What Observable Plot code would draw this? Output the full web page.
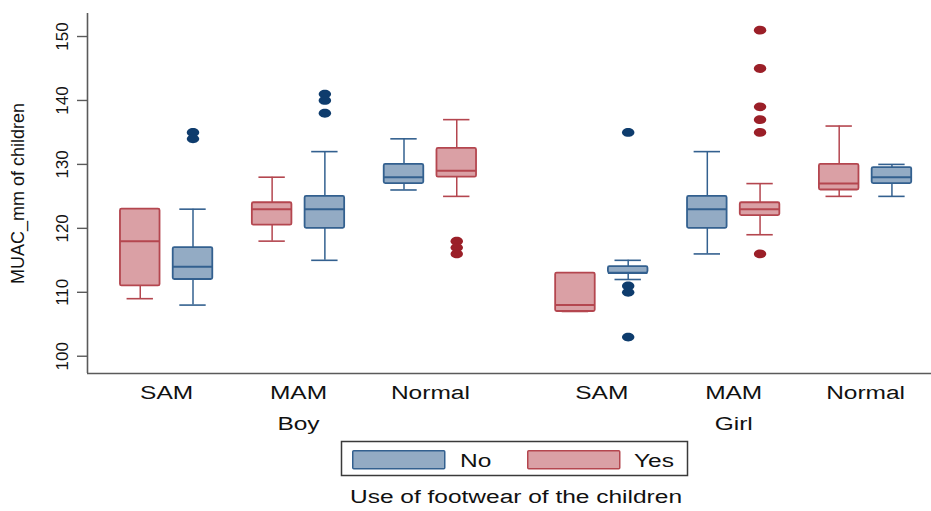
<!DOCTYPE html>
<html>
<head>
<meta charset="utf-8">
<script src="https://cdn.jsdelivr.net/npm/d3@7"></script>
<script src="https://cdn.jsdelivr.net/npm/@observablehq/plot@0.6"></script>
<style>
  html, body { margin: 0; padding: 0; background: #ffffff; }
  #chart { width: 931px; height: 511px; position: relative; overflow: hidden; }
  svg { display: block; }
</style>
</head>
<body>
<div id="chart"></div>
<script>
// ---------- data ----------
// boxes, left to right
const sex      = ["Boy","Boy","Boy","Boy","Boy","Boy","Girl","Girl","Girl","Girl","Girl","Girl"];
const status   = ["SAM","SAM","MAM","MAM","Normal","Normal","SAM","SAM","MAM","MAM","Normal","Normal"];
const footwear = ["Yes","No","Yes","No","No","Yes","Yes","No","No","Yes","Yes","No"];
const whiskerLow  = [109, 108, 118, 115, 126, 125, 107, 112, 116, 119, 125, 125];
const quartile1   = [111, 112, 120.5, 120, 127, 128, 107, 113, 120, 122, 126, 127];
const median      = [118, 114, 123, 123, 128, 129, 108, 113, 123, 123, 127, 128];
const quartile3   = [123, 117, 124, 125, 130, 132.5, 113, 114, 125, 124, 130, 129.5];
const whiskerHigh = [123, 123, 128, 132, 134, 137, 113, 115, 132, 127, 136, 130];

// outside values
const outlierSex      = ["Boy","Boy","Boy","Boy","Boy","Boy","Boy","Boy","Girl","Girl","Girl","Girl","Girl","Girl","Girl","Girl","Girl","Girl"];
const outlierStatus   = ["SAM","SAM","MAM","MAM","MAM","Normal","Normal","Normal","SAM","SAM","SAM","SAM","MAM","MAM","MAM","MAM","MAM","MAM"];
const outlierFootwear = ["No","No","No","No","No","Yes","Yes","Yes","No","No","No","No","Yes","Yes","Yes","Yes","Yes","Yes"];
const outlierValue    = [135, 134, 141, 140, 138, 118, 117, 116, 135, 111, 110, 103, 151, 145, 139, 137, 135, 116];

const groupLabels    = ["Boy", "Girl"];
const categoryLabels = ["SAM", "MAM", "Normal"];
const legendKeys     = ["No", "Yes"];
const yTicks         = [100, 110, 120, 130, 140, 150];
const yTitle = "MUAC_mm of children";
const xTitle = "Use of footwear of the children";

// ---------- styles ----------
const fillColor   = {No: "#93abc4", Yes: "#daa0a5"};
const strokeColor = {No: "#33608f", Yes: "#b4464f"};
const dotColor    = {No: "#0e3c6d", Yes: "#9b1f28"};
const FONT = "'Liberation Sans', Arial, Helvetica, sans-serif";
const STRETCH = 1.36;

// layout (in category units)
const groupGap = 0.3, boxOffset = 0.2, boxHalf = 0.15, capHalf = 0.1;
const xDomain = [-0.6, 5.8];
const yDomain = [97.3, 153.6];

const catCenter = (g, c) => g * 3 + c + g * groupGap;
const boxes = sex.map((s, i) => {
  const g = groupLabels.indexOf(s), c = categoryLabels.indexOf(status[i]);
  const first = status.indexOf(status[i], g * 6) === i;
  return {
    sex: s, status: status[i], footwear: footwear[i],
    x: catCenter(g, c) + (first ? -boxOffset : boxOffset),
    lo: whiskerLow[i], q1: quartile1[i], med: median[i], q3: quartile3[i], hi: whiskerHigh[i]
  };
});
const outliers = outlierValue.map((v, i) => {
  const b = boxes.find(b => b.sex === outlierSex[i] && b.status === outlierStatus[i] && b.footwear === outlierFootwear[i]);
  return {x: b.x, value: v, footwear: outlierFootwear[i]};
});
const catLabels = [];
groupLabels.forEach((g, gi) => categoryLabels.forEach((c, ci) => catLabels.push({x: catCenter(gi, ci), text: c})));
const grpLabels = groupLabels.map((g, gi) => ({x: catCenter(gi, 1), text: g}));

const ellipse = {
  draw(ctx) {
    const rx = 6.2, ry = 4.4, k = 0.5523;
    ctx.moveTo(rx, 0);
    ctx.bezierCurveTo(rx, ry * k, rx * k, ry, 0, ry);
    ctx.bezierCurveTo(-rx * k, ry, -rx, ry * k, -rx, 0);
    ctx.bezierCurveTo(-rx, -ry * k, -rx * k, -ry, 0, -ry);
    ctx.bezierCurveTo(rx * k, -ry, rx, -ry * k, rx, 0);
    ctx.closePath();
  }
};

const svg = Plot.plot({
  width: 931, height: 437,
  marginLeft: 87, marginRight: 0, marginTop: 13, marginBottom: 64,
  style: {fontFamily: FONT, fontSize: "18px", color: "#111", background: "#ffffff", overflow: "visible"},
  x: {type: "linear", domain: xDomain, axis: null},
  y: {domain: yDomain, axis: null},
  marks: [
    // axes lines
    Plot.ruleX([xDomain[0]], {stroke: "#5a5a5a", strokeWidth: 1.6}),
    Plot.ruleY([yDomain[0]], {stroke: "#5a5a5a", strokeWidth: 1.6}),
    Plot.ruleY(yTicks, {y: d => d, x1: xDomain[0], x2: xDomain[0], insetLeft: -10, stroke: "#5a5a5a", strokeWidth: 1.4}),
    Plot.text(yTicks, {x: xDomain[0], y: d => d, text: d => String(d), rotate: -90, dx: -25, textAnchor: "middle", lineAnchor: "middle", fontSize: 17, fill: "#111"}),
    Plot.text([yTitle], {frameAnchor: "left", text: d => d, rotate: -90, dx: -69, textAnchor: "middle", lineAnchor: "middle", fontSize: 18, fill: "#111"}),
    // whiskers
    Plot.ruleX(boxes, {x: "x", y1: "q3", y2: "hi", stroke: d => strokeColor[d.footwear], strokeWidth: 1.5}),
    Plot.ruleX(boxes, {x: "x", y1: "lo", y2: "q1", stroke: d => strokeColor[d.footwear], strokeWidth: 1.5}),
    Plot.ruleY(boxes, {y: "hi", x1: d => d.x - capHalf, x2: d => d.x + capHalf, stroke: d => strokeColor[d.footwear], strokeWidth: 1.6}),
    Plot.ruleY(boxes, {y: "lo", x1: d => d.x - capHalf, x2: d => d.x + capHalf, stroke: d => strokeColor[d.footwear], strokeWidth: 1.6}),
    // boxes
    Plot.rect(boxes, {x1: d => d.x - boxHalf, x2: d => d.x + boxHalf, y1: "q1", y2: "q3",
      fill: d => fillColor[d.footwear], stroke: d => strokeColor[d.footwear], strokeWidth: 1.8, rx: 1.5}),
    Plot.ruleY(boxes, {y: "med", x1: d => d.x - boxHalf, x2: d => d.x + boxHalf, stroke: d => strokeColor[d.footwear], strokeWidth: 2}),
    // outside values
    Plot.dot(outliers, {x: "x", y: "value", symbol: ellipse, fill: d => dotColor[d.footwear], stroke: "none"}),
    // category & group labels
    Plot.text(catLabels, {x: "x", text: "text", frameAnchor: "bottom", dy: 25, lineAnchor: "bottom", fill: "#111", fontSize: 18}),
    Plot.text(grpLabels, {x: "x", text: "text", frameAnchor: "bottom", dy: 56, lineAnchor: "bottom", fill: "#111", fontSize: 18})
  ]
});

const chart = document.getElementById("chart");
chart.appendChild(svg);

// legend + x title below the plot
const leg = d3.create("svg").attr("width", 931).attr("height", 74)
  .style("font-family", FONT).style("font-size", "18px");
leg.append("rect").attr("x", 341.5).attr("y", 4.5).attr("width", 346).attr("height", 34)
  .attr("fill", "#fff").attr("stroke", "#3a3a3a").attr("stroke-width", 1.5);
const swX = [352, 527], txX = [460, 634];
legendKeys.forEach((k, i) => {
  leg.append("rect").attr("x", swX[i] + 0.75).attr("y", 13.75).attr("width", 92).attr("height", 18)
    .attr("fill", fillColor[k]).attr("stroke", strokeColor[k]).attr("stroke-width", 1.5).attr("rx", 1);
  leg.append("text").attr("x", txX[i]).attr("y", 30).attr("fill", "#111").text(k);
});
leg.append("text").attr("x", 516).attr("y", 66).attr("text-anchor", "middle").attr("fill", "#111").text(xTitle);
chart.appendChild(leg.node());

// horizontal widening of the non-rotated labels (the reference is stretched horizontally)
function widen(root) {
  d3.select(root).selectAll("text").each(function () {
    const t = this.getAttribute("transform") || "";
    if (t.includes("rotate")) return;
    if (!this.textContent) return;
    const L = this.getComputedTextLength();
    this.setAttribute("textLength", (L * STRETCH).toFixed(1));
    this.setAttribute("lengthAdjust", "spacingAndGlyphs");
  });
}
widen(svg);
widen(leg.node());
</script>
</body>
</html>
